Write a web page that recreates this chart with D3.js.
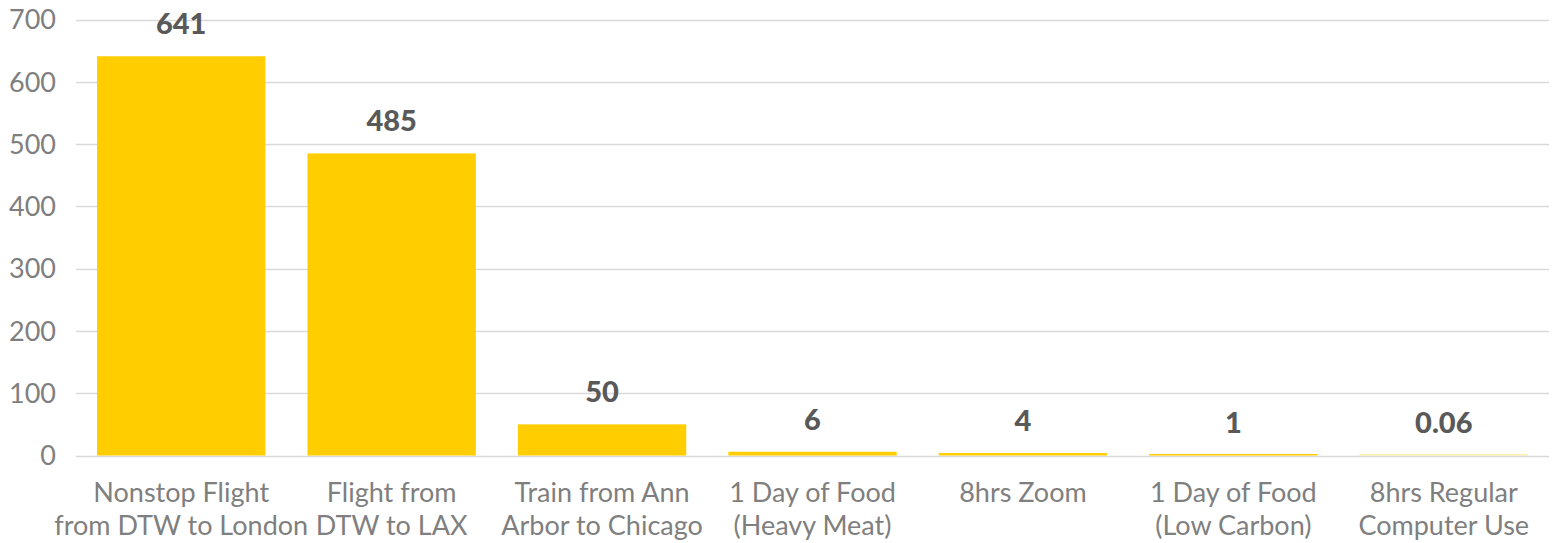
<!DOCTYPE html>
<html>
<head>
<meta charset="utf-8">
<script src="https://cdn.jsdelivr.net/npm/d3@7"></script>
<style>
  html, body { margin: 0; padding: 0; background: #fff; }
  svg { display: block; font-family: Lato, "Open Sans", sans-serif; }
</style>
</head>
<body>
<svg id="chart" width="1558" height="543"></svg>
<script>
const categories = [
  ["Nonstop Flight", "from DTW to London"],
  ["Flight from", "DTW to LAX"],
  ["Train from Ann", "Arbor to Chicago"],
  ["1 Day of Food", "(Heavy Meat)"],
  ["8hrs Zoom"],
  ["1 Day of Food", "(Low Carbon)"],
  ["8hrs Regular", "Computer Use"]
];
const values = [641, 485, 50, 6, 4, 1, 0.06];
const valueLabels = ["641", "485", "50", "6", "4", "1", "0.06"];
const yTicks = [0, 100, 200, 300, 400, 500, 600, 700];

(function () {
const svg = d3.select("#chart");
const mLeft = 76, mRight = 1549, mTop = 19.5, mBottom = 455.5;

const x = d3.scaleBand()
  .domain(d3.range(categories.length))
  .range([mLeft, mRight])
  .paddingInner(0.2)
  .paddingOuter(0.1);

const y = d3.scaleLinear().domain([0, 700]).range([mBottom, mTop]);

// gridlines
svg.append("g")
  .selectAll("line")
  .data(yTicks)
  .join("line")
  .attr("x1", mLeft).attr("x2", mRight)
  .attr("y1", d => Math.round(y(d)) + 0.5)
  .attr("y2", d => Math.round(y(d)) + 0.5)
  .attr("stroke", "#d9d9d9")
  .attr("stroke-width", 1.5);

// y tick labels
svg.append("g")
  .selectAll("text")
  .data(yTicks)
  .join("text")
  .attr("x", 56)
  .attr("y", d => y(d))
  .attr("dy", "0.36em")
  .attr("text-anchor", "end")
  .attr("fill", "#7f7f7f")
  .style("font-size", "27px")
  .text(d => d);

// bars
svg.append("g")
  .selectAll("rect")
  .data(values)
  .join("rect")
  .attr("x", (d, i) => x(i))
  .attr("width", x.bandwidth())
  .attr("y", d => Math.min(y(d), mBottom - 1.5))
  .attr("height", d => Math.max(mBottom - y(d), 1.5))
  .attr("fill", "#ffcd00")
  .attr("fill-opacity", d => d < 0.5 ? 0.3 : 1);

// value labels
svg.append("g")
  .selectAll("text")
  .data(values)
  .join("text")
  .attr("x", (d, i) => x(i) + x.bandwidth() / 2)
  .attr("y", d => y(d) - 22)
  .attr("text-anchor", "middle")
  .attr("fill", "#595959")
  .style("font-size", "29px")
  .style("font-weight", "900")
  .text((d, i) => valueLabels[i]);

// category labels
const cat = svg.append("g")
  .selectAll("text")
  .data(categories)
  .join("text")
  .attr("x", (d, i) => x(i) + x.bandwidth() / 2)
  .attr("y", 501.5)
  .attr("text-anchor", "middle")
  .attr("fill", "#7f7f7f")
  .style("font-size", "27px");
cat.selectAll("tspan")
  .data(d => d)
  .join("tspan")
  .attr("x", function() { return d3.select(this.parentNode).attr("x"); })
  .attr("dy", (d, j) => j === 0 ? 0 : 33.5)
  .text(d => d);
})();
</script>
</body>
</html>
